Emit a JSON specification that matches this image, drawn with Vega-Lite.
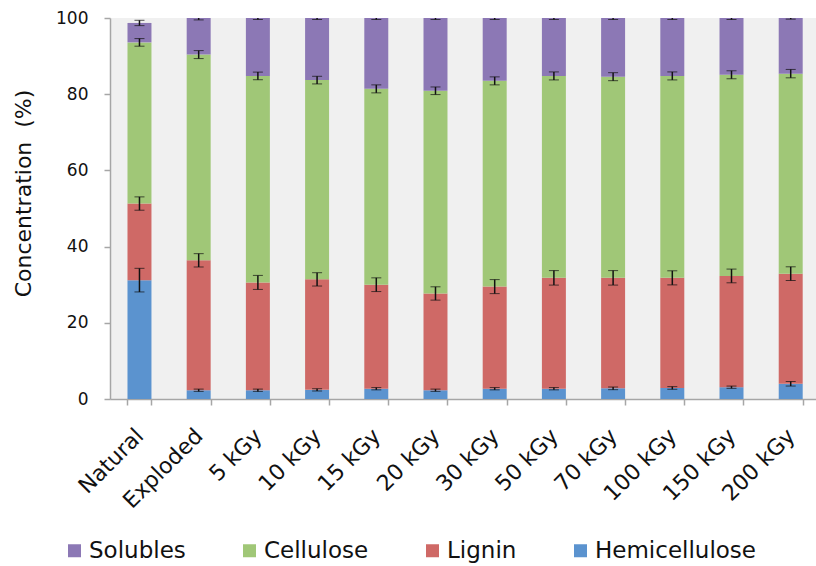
{
  "$schema": "https://vega.github.io/schema/vega-lite/v6.json",
  "width": 706,
  "height": 381,
  "autosize": "none",
  "padding": {"left": 110, "top": 18, "right": 0, "bottom": 167},
  "background": "white",
  "config": {
    "font": "DejaVu Sans",
    "view": {"fill": "#f0f0f0", "stroke": null},
    "axis": {"grid": false, "domainColor": "#a6a6a6", "tickColor": "#a6a6a6", "domainWidth": 1.5, "tickWidth": 1.5, "tickSize": 6, "labelColor": "#111111", "titleColor": "#111111", "labelFont": "DejaVu Sans", "titleFont": "DejaVu Sans"}
  },
  "data": {
    "values": [
      {"cat": "Natural", "comp": "Hemicellulose", "value": 31.2, "err": 3.1},
      {"cat": "Natural", "comp": "Lignin", "value": 20.1, "err": 1.75},
      {"cat": "Natural", "comp": "Cellulose", "value": 42.3, "err": 1.0},
      {"cat": "Natural", "comp": "Solubles", "value": 5.1, "err": 0.7},
      {"cat": "Exploded", "comp": "Hemicellulose", "value": 2.3, "err": 0.3},
      {"cat": "Exploded", "comp": "Lignin", "value": 34.1, "err": 1.75},
      {"cat": "Exploded", "comp": "Cellulose", "value": 54.0, "err": 1.05},
      {"cat": "Exploded", "comp": "Solubles", "value": 9.6, "err": 0.5},
      {"cat": "5 kGy", "comp": "Hemicellulose", "value": 2.3, "err": 0.3},
      {"cat": "5 kGy", "comp": "Lignin", "value": 28.3, "err": 1.84},
      {"cat": "5 kGy", "comp": "Cellulose", "value": 54.2, "err": 1.0},
      {"cat": "5 kGy", "comp": "Solubles", "value": 15.2, "err": 0.4},
      {"cat": "10 kGy", "comp": "Hemicellulose", "value": 2.4, "err": 0.3},
      {"cat": "10 kGy", "comp": "Lignin", "value": 29.0, "err": 1.75},
      {"cat": "10 kGy", "comp": "Cellulose", "value": 52.3, "err": 1.0},
      {"cat": "10 kGy", "comp": "Solubles", "value": 16.3, "err": 0.4},
      {"cat": "15 kGy", "comp": "Hemicellulose", "value": 2.7, "err": 0.3},
      {"cat": "15 kGy", "comp": "Lignin", "value": 27.3, "err": 1.8},
      {"cat": "15 kGy", "comp": "Cellulose", "value": 51.4, "err": 1.05},
      {"cat": "15 kGy", "comp": "Solubles", "value": 18.6, "err": 0.4},
      {"cat": "20 kGy", "comp": "Hemicellulose", "value": 2.3, "err": 0.3},
      {"cat": "20 kGy", "comp": "Lignin", "value": 25.4, "err": 1.75},
      {"cat": "20 kGy", "comp": "Cellulose", "value": 53.2, "err": 1.0},
      {"cat": "20 kGy", "comp": "Solubles", "value": 19.1, "err": 0.4},
      {"cat": "30 kGy", "comp": "Hemicellulose", "value": 2.7, "err": 0.3},
      {"cat": "30 kGy", "comp": "Lignin", "value": 26.8, "err": 1.84},
      {"cat": "30 kGy", "comp": "Cellulose", "value": 54.0, "err": 1.05},
      {"cat": "30 kGy", "comp": "Solubles", "value": 16.5, "err": 0.4},
      {"cat": "50 kGy", "comp": "Hemicellulose", "value": 2.7, "err": 0.3},
      {"cat": "50 kGy", "comp": "Lignin", "value": 29.1, "err": 1.9},
      {"cat": "50 kGy", "comp": "Cellulose", "value": 53.0, "err": 1.05},
      {"cat": "50 kGy", "comp": "Solubles", "value": 15.2, "err": 0.4},
      {"cat": "70 kGy", "comp": "Hemicellulose", "value": 2.8, "err": 0.35},
      {"cat": "70 kGy", "comp": "Lignin", "value": 29.0, "err": 1.9},
      {"cat": "70 kGy", "comp": "Cellulose", "value": 52.8, "err": 1.05},
      {"cat": "70 kGy", "comp": "Solubles", "value": 15.4, "err": 0.4},
      {"cat": "100 kGy", "comp": "Hemicellulose", "value": 2.9, "err": 0.35},
      {"cat": "100 kGy", "comp": "Lignin", "value": 28.9, "err": 1.85},
      {"cat": "100 kGy", "comp": "Cellulose", "value": 53.0, "err": 1.05},
      {"cat": "100 kGy", "comp": "Solubles", "value": 15.2, "err": 0.4},
      {"cat": "150 kGy", "comp": "Hemicellulose", "value": 3.1, "err": 0.3},
      {"cat": "150 kGy", "comp": "Lignin", "value": 29.2, "err": 1.8},
      {"cat": "150 kGy", "comp": "Cellulose", "value": 52.8, "err": 1.05},
      {"cat": "150 kGy", "comp": "Solubles", "value": 14.9, "err": 0.4},
      {"cat": "200 kGy", "comp": "Hemicellulose", "value": 4.0, "err": 0.6},
      {"cat": "200 kGy", "comp": "Lignin", "value": 28.9, "err": 1.8},
      {"cat": "200 kGy", "comp": "Cellulose", "value": 52.5, "err": 1.1},
      {"cat": "200 kGy", "comp": "Solubles", "value": 14.6, "err": 0.3}
    ]
  },
  "transform": [
    {"stack": "value", "groupby": ["cat"], "as": ["y0", "y1"]}
  ],
  "encoding": {
    "x": {
      "field": "cat",
      "type": "nominal",
      "sort": null,
      "scale": {"paddingInner": 0.595, "paddingOuter": 0.26, "align": 0.568},
      "axis": {
        "title": null,
        "labelAngle": -45,
        "labelAlign": "right",
        "labelBaseline": "middle",
        "labelFontSize": 22,
        "labelPadding": 27,
        "tickBand": "extent"
      }
    }
  },
  "layer": [
    {
      "mark": {"type": "bar"},
      "encoding": {
        "y": {
          "field": "y0",
          "type": "quantitative",
          "title": "Concentration\u00a0 (%)",
          "scale": {"domain": [0, 100], "nice": false},
          "axis": {
            "titleFontSize": 22,
            "titleFontWeight": "normal",
            "titlePadding": 20,
            "titleY": 175,
            "values": [0, 10, 20, 30, 40, 50, 60, 70, 80, 90, 100],
            "labelExpr": "datum.value % 20 === 0 ? datum.label : ''",
            "labelFontSize": 17,
            "labelPadding": 16
          }
        },
        "y2": {"field": "y1"},
        "color": {
          "field": "comp",
          "type": "nominal",
          "scale": {
            "domain": ["Solubles", "Cellulose", "Lignin", "Hemicellulose"],
            "range": ["#8c78b5", "#a0c777", "#cf6966", "#5b93cf"]
          },
          "legend": {
            "title": null,
            "orient": "none",
            "direction": "horizontal",
            "legendX": -47,
            "legendY": 521,
            "symbolType": "square",
            "symbolSize": 169,
            "symbolStrokeWidth": 0,
            "labelFontSize": 23,
            "labelColor": "#111111",
            "labelLimit": 400,
            "labelOffset": 3,
            "columnPadding": 52
          }
        }
      }
    },
    {
      "mark": {
        "type": "errorbar",
        "clip": true,
        "ticks": {"size": 10, "color": "#111111", "strokeWidth": 1.5},
        "rule": {"color": "#111111", "strokeWidth": 1.5}
      },
      "encoding": {
        "y": {"field": "y1", "type": "quantitative", "title": "Concentration\u00a0 (%)"},
        "yError": {"field": "err"}
      }
    }
  ]
}
